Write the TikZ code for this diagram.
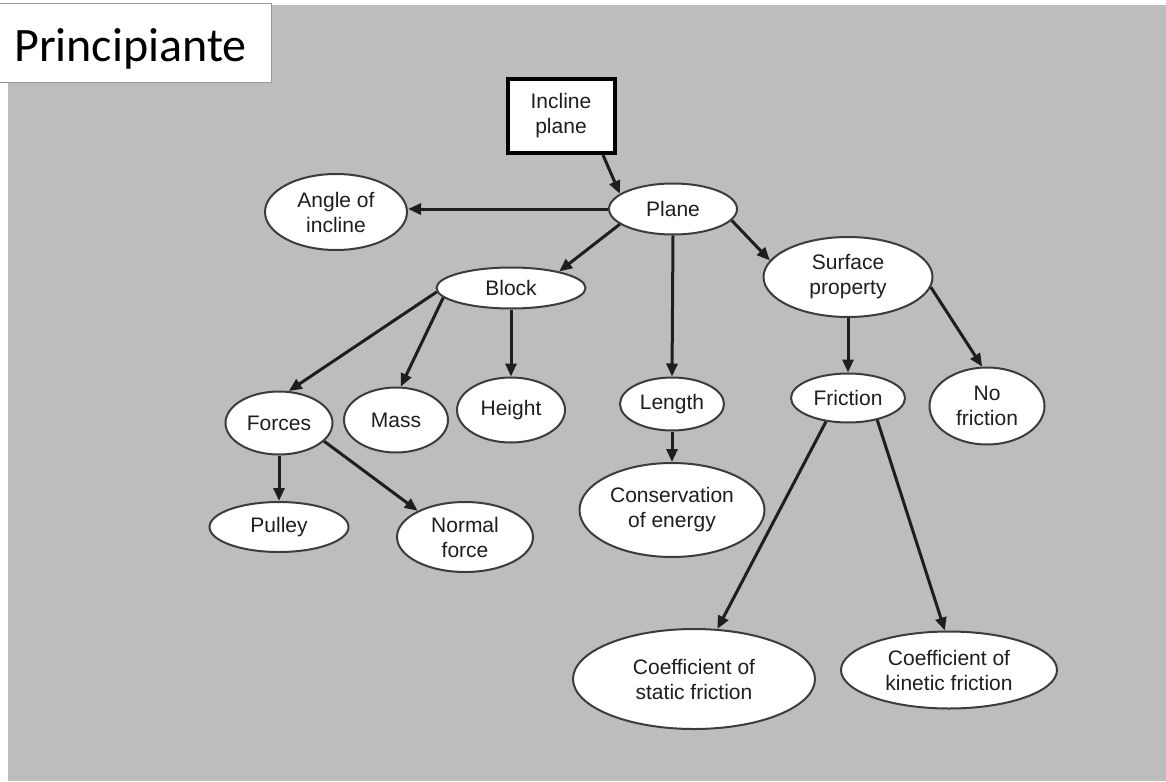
\documentclass[tikz,border=0pt]{standalone}
\usepackage{fontspec}
\setmainfont{Liberation Sans}
\newfontfamily\titlefont{Carlito}
\usetikzlibrary{shapes.geometric,arrows.meta}

\definecolor{panel}{RGB}{189,189,189}
\definecolor{ink}{RGB}{30,30,30}
\definecolor{rim}{RGB}{60,60,60}

\tikzset{
  concept/.style={ellipse, draw=rim, line width=2pt, fill=white, inner sep=0pt,
    align=center, text=ink, font=\fontsize{21}{25}\selectfont},
  rootbox/.style={rectangle, draw=black, line width=4pt, fill=white, inner sep=0pt,
    align=center, text=ink, font=\fontsize{21}{25}\selectfont},
  link/.style={draw=ink, line width=3pt, -{Triangle[length=13pt,width=11pt]}},
}

\begin{document}
\begin{tikzpicture}[x=1pt,y=-1pt]
  \useasboundingbox (0,0) rectangle (1166,781);
  \fill[white] (0,0) rectangle (1166,781);
  \fill[panel] (8,5) rectangle (1166,781);

  % heading label
  \draw[draw=black!40, fill=white, line width=1pt] (-2,4) rectangle (271,83);
  \node[anchor=base west, inner sep=0pt, font=\titlefont\fontsize{48}{50}\selectfont] (title) at (14,62) {Principiante};

  % concept nodes
  \node[rootbox, minimum width=107pt, minimum height=74pt] (incl) at (561,116) {Incline\\plane};
  \node[concept, minimum width=128pt, minimum height=51pt] (plane) at (673,209) {Plane};
  \node[concept, minimum width=142pt, minimum height=76pt] (angle) at (336,212) {Angle of\\incline};
  \node[concept, minimum width=149pt, minimum height=41pt] (block) at (511,288) {Block};
  \node[concept, minimum width=169pt, minimum height=80pt] (surf) at (848,277) {Surface\\property};
  \node[concept, minimum width=107pt, minimum height=63pt] (forces) at (279,423) {Forces};
  \node[concept, minimum width=104pt, minimum height=65pt] (mass) at (396,420) {Mass};
  \node[concept, minimum width=108pt, minimum height=65pt] (height) at (511,410) {Height};
  \node[concept, minimum width=104pt, minimum height=53pt] (length) at (672,404) {Length};
  \node[concept, minimum width=114pt, minimum height=49pt] (fric) at (848,398) {Friction};
  \node[concept, minimum width=115pt, minimum height=77pt] (nofric) at (987,406) {No\\friction};
  \node[concept, minimum width=139pt, minimum height=50pt] (pulley) at (279,527) {Pulley};
  \node[concept, minimum width=136pt, minimum height=70pt] (normal) at (465,537) {Normal\\force};
  \node[concept, minimum width=185pt, minimum height=94pt] (cons) at (672,510) {Conservation\\of energy};
  \node[concept, minimum width=242pt, minimum height=100pt] (static) at (694,679) {Coefficient of\\static friction};
  \node[concept, minimum width=216pt, minimum height=77pt] (kinetic) at (949,670) {Coefficient of\\kinetic friction};

  % connectors
  \draw[link] ([xshift=42pt]incl.south) -- (plane.164);
  \draw[link] (plane.west) -- (angle.east |- plane.west);
  \draw[link] (plane.196) -- (block.19);
  \draw[link] (plane.south) -- (length.north);
  \draw[link] (plane.-11.5) -- (surf.168);
  \draw[link] (block.183) -- (forces.73);
  \draw[link] (block.188) -- (mass.82);
  \draw[link] (block.south) -- (height.north);
  \draw[link] (forces.south) -- (pulley.north);
  \draw[link] (forces.-22) -- (normal.151);
  \draw[link] (length.south) -- (cons.north);
  \draw[link] (surf.south) -- (fric.north);
  \draw[link] (surf.-7) -- (nofric.97);
  \draw[link] (fric.227) -- (static.65);
  \draw[link] (fric.-37) -- (kinetic.96);
\end{tikzpicture}
\end{document}
